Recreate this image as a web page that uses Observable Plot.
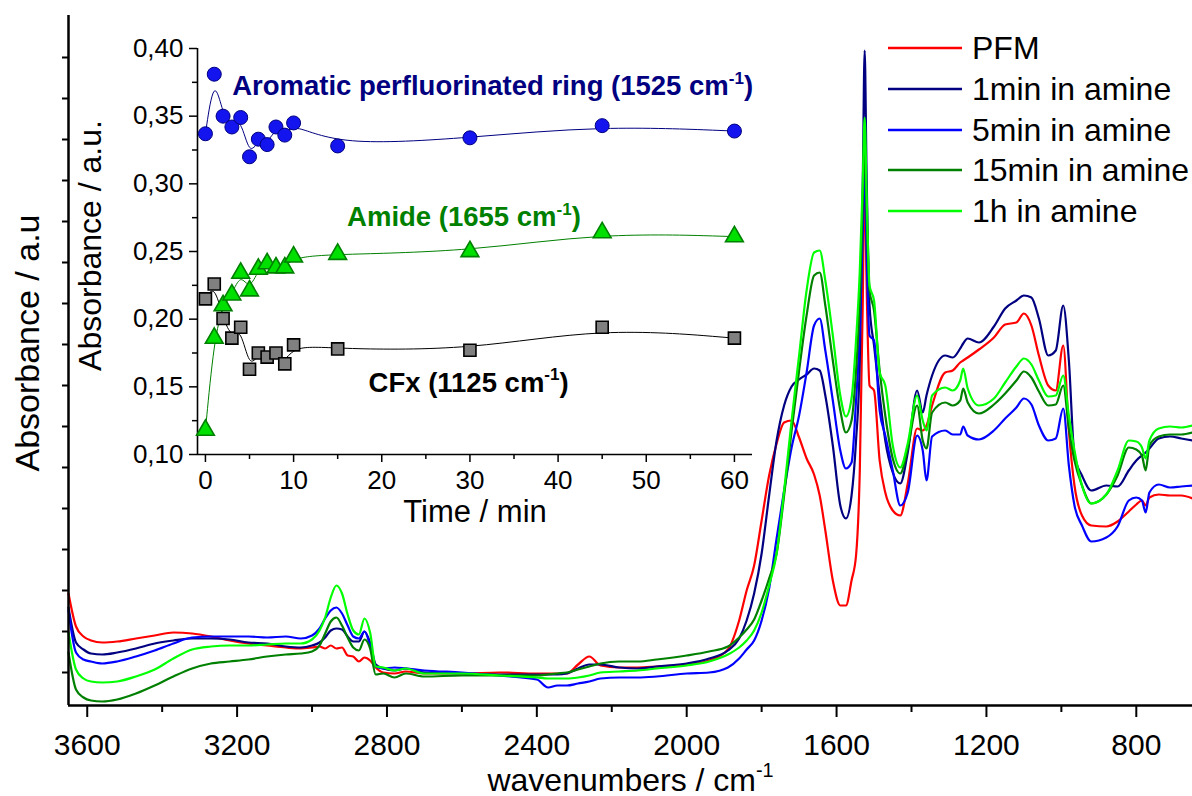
<!DOCTYPE html>
<html>
<head>
<meta charset="utf-8">
<script src="https://cdn.jsdelivr.net/npm/d3@7"></script>
<script src="https://cdn.jsdelivr.net/npm/@observablehq/plot@0.6"></script>
<style>
  body { margin: 0; background: #fff; }
  #chart { position: relative; width: 1192px; height: 796px; font-family: "Liberation Sans", Arial, sans-serif; }
  #chart svg { position: absolute; }
  #legend { position: absolute; left: 888px; top: 27.6px; }
  .row { display: flex; align-items: center; height: 40.8px; }
  .row span { font-size: 32px; margin-left: 10px; color: #000; white-space: nowrap; line-height: 1; }
</style>
</head>
<body>
<div id="chart"></div>
<script>
// ---- FTIR spectra: shared wavenumber grid (cm-1) ----
const wavenumber = [3650,3630,3610,3590,3560,3520,3470,3420,3370,3320,
  3270,3220,3170,3120,3070,3030,3000,2980,2965,2950,
  2935,2920,2905,2890,2875,2860,2845,2830,2810,2780,
  2750,2700,2600,2500,2400,2370,2345,2320,2290,2260,
  2230,2180,2130,2080,2000,1940,1890,1860,1840,1820,
  1800,1780,1760,1740,1720,1700,1680,1660,1645,1630,
  1610,1590,1575,1560,1548,1538,1530,1525,1520,1512,
  1500,1485,1470,1450,1430,1410,1385,1370,1360,1345,
  1310,1290,1270,1262,1250,1220,1180,1150,1120,1100,
  1080,1060,1035,1015,995,980,965,945,920,880,
  850,820,800,785,775,765,740,710,680,650];

// absorbance (a.u.) per sample
const pfm = [0.112,0.079,0.069,0.065,0.063,0.064,0.067,0.070,0.073,0.072,
  0.069,0.065,0.062,0.060,0.058,0.057,0.058,0.059,0.057,0.060,
  0.057,0.058,0.050,0.049,0.044,0.048,0.045,0.038,0.033,0.032,
  0.034,0.032,0.032,0.033,0.032,0.032,0.032,0.032,0.041,0.049,
  0.040,0.038,0.038,0.039,0.041,0.045,0.056,0.085,0.115,0.140,
  0.185,0.230,0.262,0.283,0.285,0.268,0.247,0.231,0.210,0.175,
  0.125,0.100,0.100,0.125,0.150,0.235,0.405,0.535,0.425,0.320,
  0.315,0.245,0.213,0.195,0.190,0.222,0.277,0.275,0.280,0.300,
  0.333,0.335,0.343,0.345,0.348,0.356,0.368,0.381,0.383,0.392,
  0.380,0.350,0.320,0.315,0.360,0.275,0.220,0.190,0.180,0.179,
  0.184,0.194,0.201,0.205,0.200,0.208,0.211,0.210,0.210,0.207];

const amine1min = [0.098,0.063,0.056,0.052,0.051,0.053,0.057,0.062,0.065,0.067,
  0.067,0.066,0.063,0.062,0.059,0.058,0.060,0.063,0.068,0.075,
  0.077,0.076,0.069,0.064,0.064,0.074,0.063,0.041,0.037,0.035,
  0.037,0.033,0.032,0.031,0.031,0.031,0.031,0.032,0.037,0.041,
  0.041,0.038,0.037,0.039,0.042,0.047,0.055,0.067,0.085,0.112,
  0.152,0.210,0.265,0.300,0.319,0.326,0.331,0.337,0.335,0.310,
  0.260,0.200,0.187,0.210,0.265,0.345,0.525,0.655,0.535,0.400,
  0.360,0.310,0.265,0.233,0.222,0.253,0.315,0.293,0.310,0.330,
  0.350,0.348,0.357,0.362,0.367,0.363,0.379,0.397,0.405,0.410,
  0.408,0.387,0.350,0.355,0.400,0.345,0.250,0.230,0.215,0.220,
  0.219,0.235,0.245,0.250,0.253,0.257,0.267,0.269,0.267,0.265];

const amine5min = [0.095,0.053,0.046,0.044,0.042,0.044,0.049,0.055,0.062,0.068,
  0.069,0.069,0.069,0.068,0.069,0.067,0.070,0.077,0.087,0.095,
  0.098,0.092,0.080,0.069,0.067,0.074,0.060,0.039,0.037,0.038,
  0.037,0.035,0.033,0.030,0.026,0.018,0.020,0.020,0.022,0.024,
  0.027,0.028,0.028,0.029,0.032,0.033,0.038,0.047,0.056,0.065,
  0.085,0.117,0.167,0.215,0.258,0.290,0.333,0.380,0.387,0.355,
  0.305,0.255,0.237,0.243,0.305,0.375,0.475,0.545,0.455,0.370,
  0.365,0.295,0.270,0.235,0.200,0.213,0.270,0.255,0.225,0.269,
  0.275,0.271,0.271,0.279,0.270,0.266,0.275,0.287,0.298,0.307,
  0.301,0.280,0.265,0.267,0.297,0.240,0.200,0.180,0.164,0.168,
  0.179,0.205,0.208,0.205,0.193,0.213,0.221,0.218,0.219,0.220];

const amine15min = [0.053,0.016,0.008,0.005,0.004,0.006,0.012,0.020,0.029,0.037,
  0.042,0.044,0.046,0.049,0.051,0.052,0.054,0.060,0.072,0.084,
  0.088,0.080,0.068,0.058,0.055,0.066,0.057,0.031,0.032,0.028,
  0.032,0.029,0.030,0.030,0.030,0.031,0.032,0.033,0.036,0.039,
  0.042,0.044,0.044,0.046,0.050,0.054,0.059,0.068,0.076,0.086,
  0.105,0.127,0.152,0.210,0.275,0.335,0.390,0.430,0.433,0.400,
  0.345,0.295,0.273,0.285,0.335,0.405,0.505,0.570,0.495,0.415,
  0.395,0.335,0.290,0.247,0.232,0.257,0.300,0.265,0.257,0.293,
  0.303,0.300,0.305,0.317,0.303,0.292,0.301,0.312,0.325,0.334,
  0.328,0.314,0.300,0.301,0.320,0.277,0.245,0.220,0.202,0.211,
  0.230,0.258,0.256,0.250,0.235,0.260,0.269,0.271,0.271,0.273];

const amine1h = [0.073,0.036,0.027,0.024,0.023,0.024,0.029,0.036,0.047,0.056,
  0.059,0.060,0.060,0.061,0.062,0.062,0.066,0.075,0.088,0.108,
  0.120,0.112,0.091,0.075,0.071,0.087,0.073,0.039,0.038,0.035,
  0.037,0.032,0.032,0.030,0.028,0.027,0.027,0.027,0.028,0.030,
  0.033,0.034,0.035,0.037,0.040,0.044,0.051,0.058,0.065,0.075,
  0.093,0.120,0.152,0.215,0.285,0.350,0.415,0.453,0.455,0.425,
  0.370,0.310,0.289,0.307,0.365,0.435,0.525,0.588,0.515,0.420,
  0.405,0.333,0.320,0.260,0.238,0.262,0.310,0.285,0.275,0.310,
  0.318,0.315,0.325,0.337,0.317,0.300,0.307,0.323,0.339,0.347,
  0.341,0.325,0.309,0.310,0.330,0.290,0.255,0.220,0.202,0.211,
  0.235,0.265,0.264,0.258,0.247,0.265,0.277,0.279,0.278,0.280];

const seriesNames = ["PFM", "1min in amine", "5min in amine", "15min in amine", "1h in amine"];
const seriesColors = ["#ff0000", "#000080", "#0000ff", "#008000", "#00ff00"];
const seriesValues = [pfm, amine1min, amine5min, amine15min, amine1h];

const wnMajorTicks = [3600, 3200, 2800, 2400, 2000, 1600, 1200, 800];
const wnMinorTicks = [3400, 3000, 2600, 2200, 1800, 1400, 1000];
const absTicks = d3.range(16).map(i => 0.033 + 0.041 * i);

// ---- Inset: band intensity versus immersion time ----
const time = [0, 1, 2, 3, 4, 5, 6, 7, 8, 9, 10, 15, 30, 45, 60];
const ring1525 = [0.337,0.381,0.350,0.342,0.349,0.320,0.333,0.329,0.342,0.336,0.345,0.328,0.334,0.343,0.339];
const amide1655 = [0.118,0.186,0.210,0.218,0.234,0.221,0.237,0.241,0.238,0.238,0.246,0.248,0.250,0.264,0.261];
const cfx1125 = [0.215,0.226,0.2005,0.186,0.194,0.163,0.175,0.172,0.175,0.167,0.181,0.178,0.177,0.194,0.186];

const timeMajorTicks = [0, 10, 20, 30, 40, 50, 60];
const timeMinorTicks = [5, 15, 25, 35, 45, 55];
const insetMajorTicks = [0.10, 0.15, 0.20, 0.25, 0.30, 0.35, 0.40];
const insetMinorTicks = [0.125, 0.175, 0.225, 0.275, 0.325, 0.375];

const font = "Liberation Sans, Arial, Helvetica, sans-serif";
const ink = "#000";

// ---------- main spectra plot ----------
const spectrumLines = seriesValues.map((vals, k) =>
  Plot.line(wavenumber.map((w, i) => ({wn: w, a: vals[i]})), {
    x: "wn", y: "a", stroke: seriesColors[k], strokeWidth: 2.2,
    curve: "monotone-x", strokeLinejoin: "round"
  })
);

const main = Plot.plot({
  width: 1192, height: 796,
  marginLeft: 68, marginRight: 0, marginTop: 15, marginBottom: 91,
  style: {fontFamily: font, background: "transparent", color: ink, overflow: "visible"},
  x: {domain: [3650, 650], label: null},
  y: {domain: [0, 0.69], label: null},
  marks: [
    ...spectrumLines,
    Plot.ruleY([0], {stroke: ink, strokeWidth: 2.5}),
    Plot.ruleX([3650], {stroke: ink, strokeWidth: 2.5}),
    Plot.axisX({ticks: wnMajorTicks, tickSize: 12, tickPadding: 16, fontSize: 30, tickFormat: d => String(d), strokeWidth: 2, label: null}),
    Plot.axisX({ticks: wnMinorTicks, tickSize: 7, tickFormat: () => "", strokeWidth: 2, label: null}),
    Plot.axisY({ticks: absTicks, tickSize: 6, tickFormat: () => "", strokeWidth: 2, label: null}),
    Plot.text(["wavenumbers / cm-1"], {text: d => d, frameAnchor: "bottom", textAnchor: "middle", dy: 85, lineAnchor: "bottom", fontSize: 32}),
    Plot.text(["Absorbance / a.u"], {text: d => d, frameAnchor: "left", textAnchor: "middle", dx: -30, dy: -17.5, rotate: -90, lineAnchor: "bottom", fontSize: 34})
  ]
});

// ---------- inset kinetics plot ----------
const kin = time.map((t, i) => ({t, ring: ring1525[i], amide: amide1655[i], cfx: cfx1125[i]}));
const comma = d => d.toFixed(2).replace(".", ",");

const inset = Plot.plot({
  width: 720, height: 540,
  marginLeft: 137, marginRight: 28, marginTop: 48, marginBottom: 86,
  style: {fontFamily: font, background: "transparent", color: ink, overflow: "visible"},
  x: {domain: [-0.9, 62.05], label: null},
  y: {domain: [0.10, 0.40], label: null},
  marks: [
    Plot.ruleY([0.10], {stroke: ink, strokeWidth: 1.6}),
    Plot.ruleX([-0.9], {stroke: ink, strokeWidth: 1.6}),
    Plot.axisY({ticks: insetMajorTicks, tickSize: 8, tickPadding: 6, fontSize: 26, tickFormat: comma, strokeWidth: 1.5, label: null}),
    Plot.axisY({ticks: insetMinorTicks, tickSize: 5, tickFormat: () => "", strokeWidth: 1.5, label: null}),
    Plot.axisX({ticks: timeMajorTicks, tickSize: 8, tickPadding: 8, fontSize: 26, tickFormat: d => String(d), strokeWidth: 1.5, label: null}),
    Plot.axisX({ticks: timeMinorTicks, tickSize: 5, tickFormat: () => "", strokeWidth: 1.5, label: null}),
    Plot.line(kin, {x: "t", y: "cfx", stroke: "#000000", strokeWidth: 1, curve: "basis"}),
    Plot.line(kin, {x: "t", y: "amide", stroke: "#008000", strokeWidth: 1, curve: "basis"}),
    Plot.line(kin, {x: "t", y: "ring", stroke: "#000080", strokeWidth: 1, curve: "basis"}),
    Plot.dot(kin, {x: "t", y: "cfx", symbol: "square", r: 6.8, fill: "#808080", stroke: "#000000", strokeWidth: 1.6}),
    Plot.dot(kin, {x: "t", y: "amide", symbol: "triangle", r: 6.6, fill: "#00e000", stroke: "#008000", strokeWidth: 1.6}),
    Plot.dot(kin, {x: "t", y: "ring", symbol: "circle", r: 7, fill: "#1414ee", stroke: "#000080", strokeWidth: 1}),
    Plot.text([{t: 3.03, v: 0.372}], {x: "t", y: "v", text: () => "Aromatic perfluorinated ring (1525 cm-1)",
      textAnchor: "start", lineAnchor: "middle", fontSize: 27.5, fontWeight: "bold", fill: "#000080"}),
    Plot.text([{t: 16.07, v: 0.275}], {x: "t", y: "v", text: () => "Amide (1655 cm-1)",
      textAnchor: "start", lineAnchor: "middle", fontSize: 27.5, fontWeight: "bold", fill: "#008000"}),
    Plot.text([{t: 18.5, v: 0.153}], {x: "t", y: "v", text: () => "CFx (1125 cm-1)",
      textAnchor: "start", lineAnchor: "middle", fontSize: 27.5, fontWeight: "bold", fill: "#000000"}),
    Plot.text(["Time / min"], {text: d => d, frameAnchor: "bottom", textAnchor: "middle", dy: 67, lineAnchor: "bottom", fontSize: 31}),
    Plot.text(["Absorbance / a.u."], {text: d => d, frameAnchor: "left", textAnchor: "middle", dx: -97, dy: -6, rotate: -90, lineAnchor: "bottom", fontSize: 32})
  ]
});

const chart = document.getElementById("chart");
main.style.left = "0px"; main.style.top = "0px";
inset.style.left = "60px"; inset.style.top = "0px";
chart.appendChild(main);
chart.appendChild(inset);

// legend for the spectra
const legend = document.createElement("div");
legend.id = "legend";
seriesNames.forEach((name, k) => {
  const row = document.createElement("div");
  row.className = "row";
  row.innerHTML = `<svg width="74" height="4" style="position:static;display:block"><line x1="0" y1="2" x2="74" y2="2" stroke="${seriesColors[k]}" stroke-width="2.6"/></svg><span>${name}</span>`;
  legend.appendChild(row);
});
chart.appendChild(legend);

// raise the "-1" exponent in every "cm-1" unit
function superscriptUnits(svg) {
  d3.select(svg).selectAll("text").each(function () {
    const t = this.textContent;
    const k = t.indexOf("cm-1");
    if (k < 0) return;
    const fs = parseFloat(getComputedStyle(this).fontSize) || 30;
    const before = t.slice(0, k + 2), after = t.slice(k + 4);
    const el = d3.select(this);
    el.text(null);
    el.append("tspan").text(before);
    el.append("tspan").attr("dy", -0.42 * fs).attr("font-size", 0.62 * fs).text("-1");
    if (after) el.append("tspan").attr("dy", 0.42 * fs).text(after);
  });
}
superscriptUnits(main);
superscriptUnits(inset);
</script>
</body>
</html>
